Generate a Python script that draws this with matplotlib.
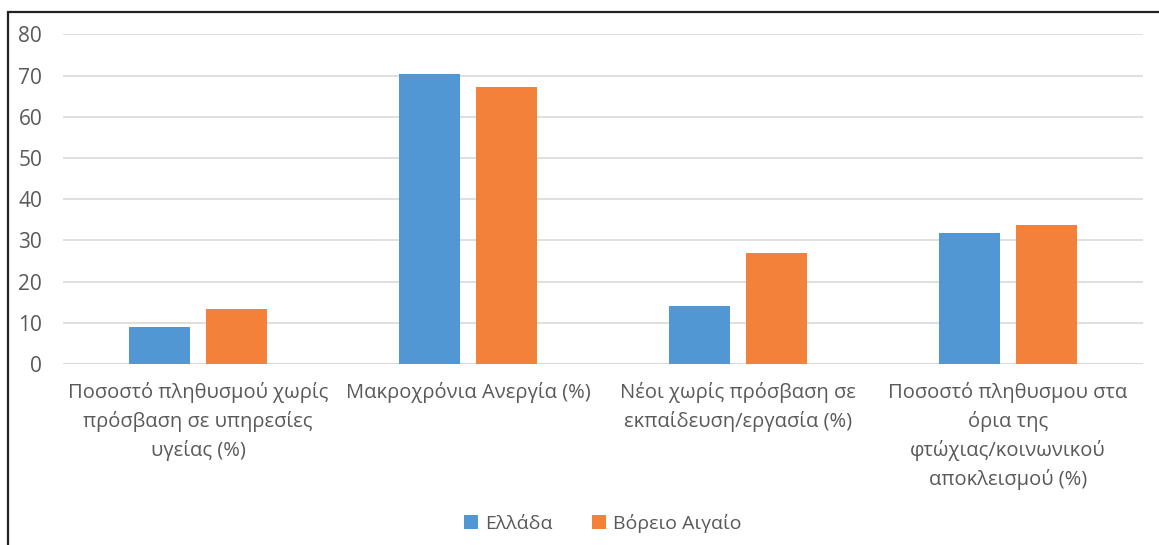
import numpy as np
import matplotlib.pyplot as plt
import matplotlib.patches as patches

# data
categories = [
    "Ποσοστό πληθυσμού χωρίς\nπρόσβαση σε υπηρεσίες\nυγείας (%)",
    "Μακροχρόνια Ανεργία (%)",
    "Νέοι χωρίς πρόσβαση σε\nεκπαίδευση/εργασία (%)",
    "Ποσοστό πληθυσμου στα\nόρια της\nφτώχιας/κοινωνικού\nαποκλεισμού (%)",
]
greece = [9.0, 70.4, 14.1, 31.8]
north_aegean = [13.3, 67.2, 26.9, 33.7]
series_names = ["Ελλάδα", "Βόρειο Αιγαίο"]
y_ticks = [0, 10, 20, 30, 40, 50, 60, 70, 80]

text_color = "#595959"
plt.rcParams['font.family'] = ['Open Sans', 'DejaVu Sans']

fig = plt.figure(figsize=(11.59, 5.45), dpi=100)
ax = fig.add_axes([63 / 1159, 1 - 364 / 545, 1080 / 1159, (364 - 34.3) / 545])

x = np.arange(len(categories))
width = 0.226
offset = 0.143
ax.bar(x - offset, greece, width, color="#5197d3", label=series_names[0], zorder=3)
ax.bar(x + offset, north_aegean, width, color="#f3813a", label=series_names[1], zorder=3)

ax.set_xlim(-0.5, len(categories) - 0.5)
ax.set_ylim(0, 80)
ax.set_yticks(y_ticks)
ax.yaxis.grid(True, color="#d9d9d9", lw=1.2, zorder=0)
ax.set_xticks(x)
ax.set_xticklabels(categories, fontsize=14.5, color=text_color, linespacing=1.5)
ax.tick_params(axis='y', labelsize=15, labelcolor=text_color, length=0, pad=15)
ax.tick_params(axis='x', length=0, pad=13)
for s in ax.spines.values():
    s.set_visible(False)
ax.axhline(0, color="#d9d9d9", lw=1.5, zorder=2)

ax.legend(loc='lower center', bbox_to_anchor=(0.5, -0.565), ncol=2, frameon=False,
          fontsize=14, labelcolor=text_color, handlelength=0.7, handleheight=0.7,
          handletextpad=0.4, columnspacing=2.0)

# outer border of the chart frame
fig.patches.append(patches.Rectangle((8 / 1159, -0.1), 1.2, 1.1 - 12 / 545,
                                     transform=fig.transFigure, fill=False,
                                     edgecolor="#222222", lw=1.6))

fig.savefig("out.png", dpi=100)
